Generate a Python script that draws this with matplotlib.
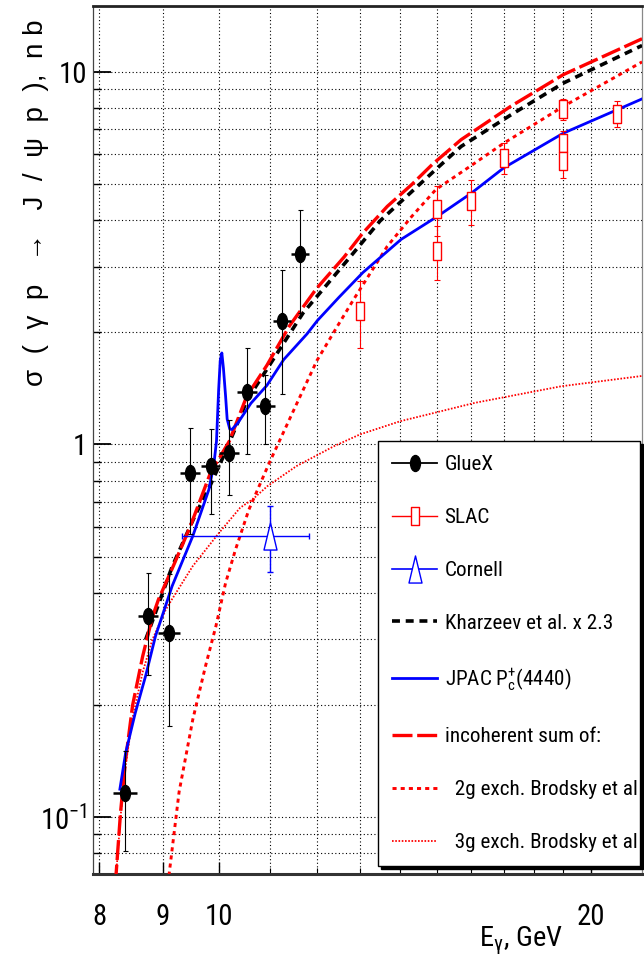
import numpy as np
import matplotlib
matplotlib.use("Agg")
import matplotlib.pyplot as plt
from matplotlib.path import Path
from matplotlib.transforms import Affine2D
from matplotlib.lines import Line2D
from matplotlib.ticker import FixedLocator, FixedFormatter, NullFormatter
from matplotlib import font_manager as fm

# ---------------- data ----------------
gluex_E = [8.39, 8.76, 9.11, 9.47, 9.84, 10.19, 10.53, 10.90, 11.25, 11.63]
gluex_sigma = [0.116, 0.346, 0.313, 0.84, 0.875, 0.95, 1.38, 1.27, 2.15, 3.25]
gluex_err = [0.035, 0.105, 0.137, 0.265, 0.225, 0.216, 0.435, 0.27, 0.785, 1.0]
gluex_Eerr = [0.19, 0.17, 0.18, 0.18, 0.18, 0.19, 0.20, 0.19, 0.19, 0.20]

slac_E = [13.0, 15.0, 15.0, 16.0, 17.0, 19.0, 19.0, 19.0, 21.0]
slac_sigma = [2.28, 4.28, 3.31, 4.51, 5.87, 7.92, 6.45, 5.75, 7.71]
slac_err = [0.47, 0.65, 0.55, 0.62, 0.55, 0.52, 0.50, 0.55, 0.62]

cornell_E = [11.0]
cornell_sigma = [0.57]
cornell_err = [0.115]
cornell_Eerr_lo = [1.67]
cornell_Eerr_hi = [0.83]

kharzeev_E = [8.72, 8.88, 9.16, 9.55, 9.84, 10.11, 10.54, 11.69, 12.7, 13.5,
              14.98, 15.7, 17.22, 19.0, 22.0]
kharzeev_sigma = [0.30, 0.354, 0.47, 0.64, 0.78, 0.95, 1.32, 2.25, 3.12, 3.98,
                  5.47, 6.3, 7.65, 9.32, 11.75]

jpac_E = [8.31, 8.40, 8.55, 8.72, 8.88, 9.16, 9.52, 9.81, 9.90, 9.95, 9.99,
          10.02, 10.05, 10.08, 10.12, 10.15, 10.20, 10.24, 10.35, 10.61, 10.93,
          11.28, 11.78, 12.01, 12.5, 13.07, 14.04, 15.02, 16.0, 17.0, 19.0, 22.0]
jpac_sigma = [0.119, 0.149, 0.19, 0.24, 0.306, 0.417, 0.568, 0.757, 0.88, 1.02,
              1.40, 1.68, 1.76, 1.60, 1.35, 1.17, 1.10, 1.097, 1.14, 1.29, 1.44,
              1.69, 1.98, 2.15, 2.48, 2.89, 3.55, 4.09, 4.72, 5.52, 6.84, 8.45]

sum_E = [8.24, 8.32, 8.40, 8.51, 8.67, 8.83, 8.93, 9.18, 9.47, 9.84, 10.19,
         10.53, 10.93, 11.40, 11.99, 12.62, 13.07, 13.68, 14.32, 14.88, 15.7,
         17.22, 19.0, 22.0]
sum_sigma = [0.066, 0.103, 0.143, 0.20, 0.27, 0.345, 0.384, 0.472, 0.60, 0.84,
             1.02, 1.35, 1.63, 2.08, 2.62, 3.18, 3.69, 4.35, 4.98, 5.64, 6.57,
             8.07, 9.82, 12.25]

g2_E = [9.07, 9.11, 9.28, 9.52, 9.75, 9.94, 10.12, 10.31, 10.57, 10.98, 11.56,
        12.0, 12.47, 12.85, 13.68, 14.32, 14.98, 16.0, 17.0, 19.0, 22.0]
g2_sigma = [0.06, 0.0706, 0.117, 0.183, 0.255, 0.326, 0.425, 0.523, 0.669,
            0.893, 1.29, 1.68, 2.08, 2.45, 3.4, 4.09, 4.83, 5.6, 6.43, 8.07, 10.62]

g3_E = [8.24, 8.32, 8.40, 8.51, 8.67, 8.83, 9.05, 9.16, 9.52, 10.0, 10.4, 10.64,
        10.94, 11.55, 12.39, 13.0, 14.02, 14.94, 16.1, 18.93, 22.0]
g3_sigma = [0.066, 0.10, 0.138, 0.185, 0.245, 0.30, 0.36, 0.385, 0.472, 0.58,
            0.677, 0.712, 0.773, 0.875, 0.99, 1.064, 1.155, 1.216, 1.293, 1.433,
            1.527]

x_major = [8, 9, 10, 20]
x_major_labels = ["8", "9", "10", "20"]
x_minor = [11, 12, 13, 14, 15, 16, 17, 18, 19]
y_major = [0.1, 1, 10]
y_major_labels = ["$10^{-1}$", "1", "10"]
y_minor = [0.08, 0.09, 0.2, 0.3, 0.4, 0.5, 0.6, 0.7, 0.8, 0.9,
           2, 3, 4, 5, 6, 7, 8, 9]

labels = ["GlueX", "SLAC", "Cornell", "Kharzeev et al. x 2.3",
          "JPAC P$_{c}^{+}$(4440)", "incoherent sum of:",
          "  2g exch. Brodsky et al", "  3g exch. Brodsky et al"]
xlabel = "E$_{\u03b3}$, GeV"
ylabel = "\u03c3  (  \u03b3  p   \u2192   J  /  \u03c8  p  ),  n b"

# ---------------- fonts: prefer a narrow face if one is installed ----------------
names = {f.name for f in fm.fontManager.ttflist}
HFONT = ["Liberation Sans", "DejaVu Sans"]
for cand in ["Liberation Sans Narrow", "Arial Narrow", "Roboto Condensed",
             "Open Sans Condensed", "Noto Sans Condensed"]:
    if cand in names:
        HFONT = [cand, "DejaVu Sans"]
        break
plt.rcParams["font.family"] = HFONT
plt.rcParams["mathtext.default"] = "regular"

fig = plt.figure(figsize=(6.44, 9.64), dpi=100)
renderer = fig.canvas.get_renderer()


def fit_size(text, target_px, family=None, base=10.0):
    t = fig.text(0, 0, text, fontsize=base, family=family or HFONT)
    w = t.get_window_extent(renderer=renderer).width
    t.remove()
    return base * target_px / w


fs_leg = min(fit_size("  3g exch. Brodsky et al", 192), 22)
fs_tick = min(fit_size("20", 28), 24)
fs_xl = min(fit_size("E, GeV", 72), 24)
fs_px = fs_leg * 100 / 72.0

# ---------------- markers ----------------
ellipse = Path.unit_circle().transformed(Affine2D().scale(0.62, 1.0))
rect = Path([(-0.2, -0.5), (0.2, -0.5), (0.2, 0.5), (-0.2, 0.5), (-0.2, -0.5)],
            [Path.MOVETO, Path.LINETO, Path.LINETO, Path.LINETO, Path.CLOSEPOLY])
tri = Path([(-0.24, -0.5), (0.24, -0.5), (0.0, 0.5), (-0.24, -0.5)],
           [Path.MOVETO, Path.LINETO, Path.LINETO, Path.CLOSEPOLY])

RED = "#ff0000"
BLUE = "#0000ff"

ax = fig.add_axes([0.144, 0.0934, 0.853, 0.9004])
ax.set_xscale("log")
ax.set_yscale("log")

# ---------------- curves ----------------
kh_style = dict(color="black", lw=2.6, dashes=(2.2, 1.6))
jp_style = dict(color=BLUE, lw=2.0)
sum_style = dict(color=RED, lw=2.4, dashes=(6.0, 1.4))
g2_style = dict(color=RED, lw=2.1, dashes=(1.4, 1.4))
g3_style = dict(color=RED, lw=1.3, dashes=(0.9, 0.9))

ax.plot(g3_E, g3_sigma, zorder=3, **g3_style)
ax.plot(g2_E, g2_sigma, zorder=3, **g2_style)
ax.plot(kharzeev_E, kharzeev_sigma, zorder=4, **kh_style)
ax.plot(sum_E, sum_sigma, zorder=4.5, **sum_style)
ax.plot(jpac_E, jpac_sigma, zorder=5, **jp_style)

# ---------------- data points ----------------
ax.errorbar(gluex_E, gluex_sigma, yerr=gluex_err, fmt="none", ecolor="black",
            elinewidth=0.8, capsize=1.8, capthick=0.8, zorder=6)
ax.errorbar(gluex_E, gluex_sigma, xerr=gluex_Eerr, fmt="none", ecolor="black",
            elinewidth=1.8, capsize=0, zorder=6)
ax.plot(gluex_E, gluex_sigma, ls="none", marker=ellipse, ms=11.5,
        color="black", zorder=7)

ax.errorbar(slac_E, slac_sigma, yerr=slac_err, fmt="none", ecolor=RED,
            elinewidth=0.8, capsize=2.2, capthick=0.8, zorder=6)
ax.plot(slac_E, slac_sigma, ls="none", marker=rect, ms=13, mfc="white",
        mec=RED, mew=1.0, zorder=7)

ax.errorbar(cornell_E, cornell_sigma, yerr=cornell_err,
            xerr=[cornell_Eerr_lo, cornell_Eerr_hi], fmt="none", ecolor=BLUE,
            elinewidth=1.0, capsize=2.5, capthick=1.0, zorder=6)
ax.plot(cornell_E, cornell_sigma, ls="none", marker=tri, ms=19.5,
        mfc="white", mec=BLUE, mew=1.0, zorder=7)

# ---------------- axes ----------------
ax.set_xlim(7.9, 22.0)
ax.set_ylim(0.0705, 15.0)
ax.xaxis.set_major_locator(FixedLocator(x_major))
ax.xaxis.set_major_formatter(FixedFormatter(x_major_labels))
ax.xaxis.set_minor_locator(FixedLocator(x_minor))
ax.xaxis.set_minor_formatter(NullFormatter())
ax.yaxis.set_major_locator(FixedLocator(y_major))
ax.yaxis.set_major_formatter(FixedFormatter(y_major_labels))
ax.yaxis.set_minor_locator(FixedLocator(y_minor))
ax.yaxis.set_minor_formatter(NullFormatter())

ax.tick_params(axis="x", which="major", direction="in", length=9, width=1.0,
               pad=21, labelsize=fs_tick)
ax.tick_params(axis="x", which="minor", direction="in", length=4, width=0.8)
ax.tick_params(axis="y", which="major", direction="in", length=13, width=1.3,
               pad=4, labelsize=fs_tick)
ax.tick_params(axis="y", which="minor", direction="in", length=6, width=1.0)

ax.set_axisbelow(True)
ax.grid(True, which="both", color="black", lw=0.8, ls=(0, (1.0, 2.2)))

ax.spines["top"].set_linewidth(2.0)
ax.spines["top"].set_color("#222222")
ax.spines["bottom"].set_linewidth(2.2)
ax.spines["bottom"].set_color("#333333")
ax.spines["left"].set_linewidth(0.9)
ax.spines["left"].set_color("#444444")
ax.spines["right"].set_linewidth(0.9)
ax.spines["right"].set_color("#888888")

fig.text(521 / 644, 1 - 925 / 964, xlabel, ha="center", va="top",
         fontsize=fs_xl)
fig.text(36 / 644, 1 - 203 / 964, ylabel, rotation=90, ha="center",
         va="center", fontsize=20, family=["Liberation Sans", "DejaVu Sans"])

# ---------------- legend ----------------
handles = [
    Line2D([], [], color="black", lw=1.3, marker=ellipse, ms=11.5),
    Line2D([], [], color=RED, lw=1.0, marker=rect, ms=13, mfc="white", mec=RED),
    Line2D([], [], color=BLUE, lw=1.2, marker=tri, ms=19.5, mfc="white", mec=BLUE),
    Line2D([], [], **kh_style),
    Line2D([], [], **jp_style),
    Line2D([], [], **sum_style),
    Line2D([], [], **g2_style),
    Line2D([], [], **g3_style),
]
row_h = 0.95 * fs_px
leg = ax.legend(handles, labels, loc="upper left",
                bbox_to_anchor=(0.519, 0.4988, 0.4776, 0.0), mode="expand",
                borderaxespad=0.0, fontsize=fs_leg,
                handlelength=45.0 / fs_px, handletextpad=7.5 / fs_px,
                labelspacing=(54.0 - row_h) / fs_px,
                borderpad=(22.0 - 0.37 * fs_px) / fs_px,
                fancybox=False, framealpha=1.0, edgecolor="black",
                shadow={"color": "black", "alpha": 1.0})
leg.get_frame().set_linewidth(1.0)
leg.set_zorder(20)

fig.savefig("out.png", dpi=100)
